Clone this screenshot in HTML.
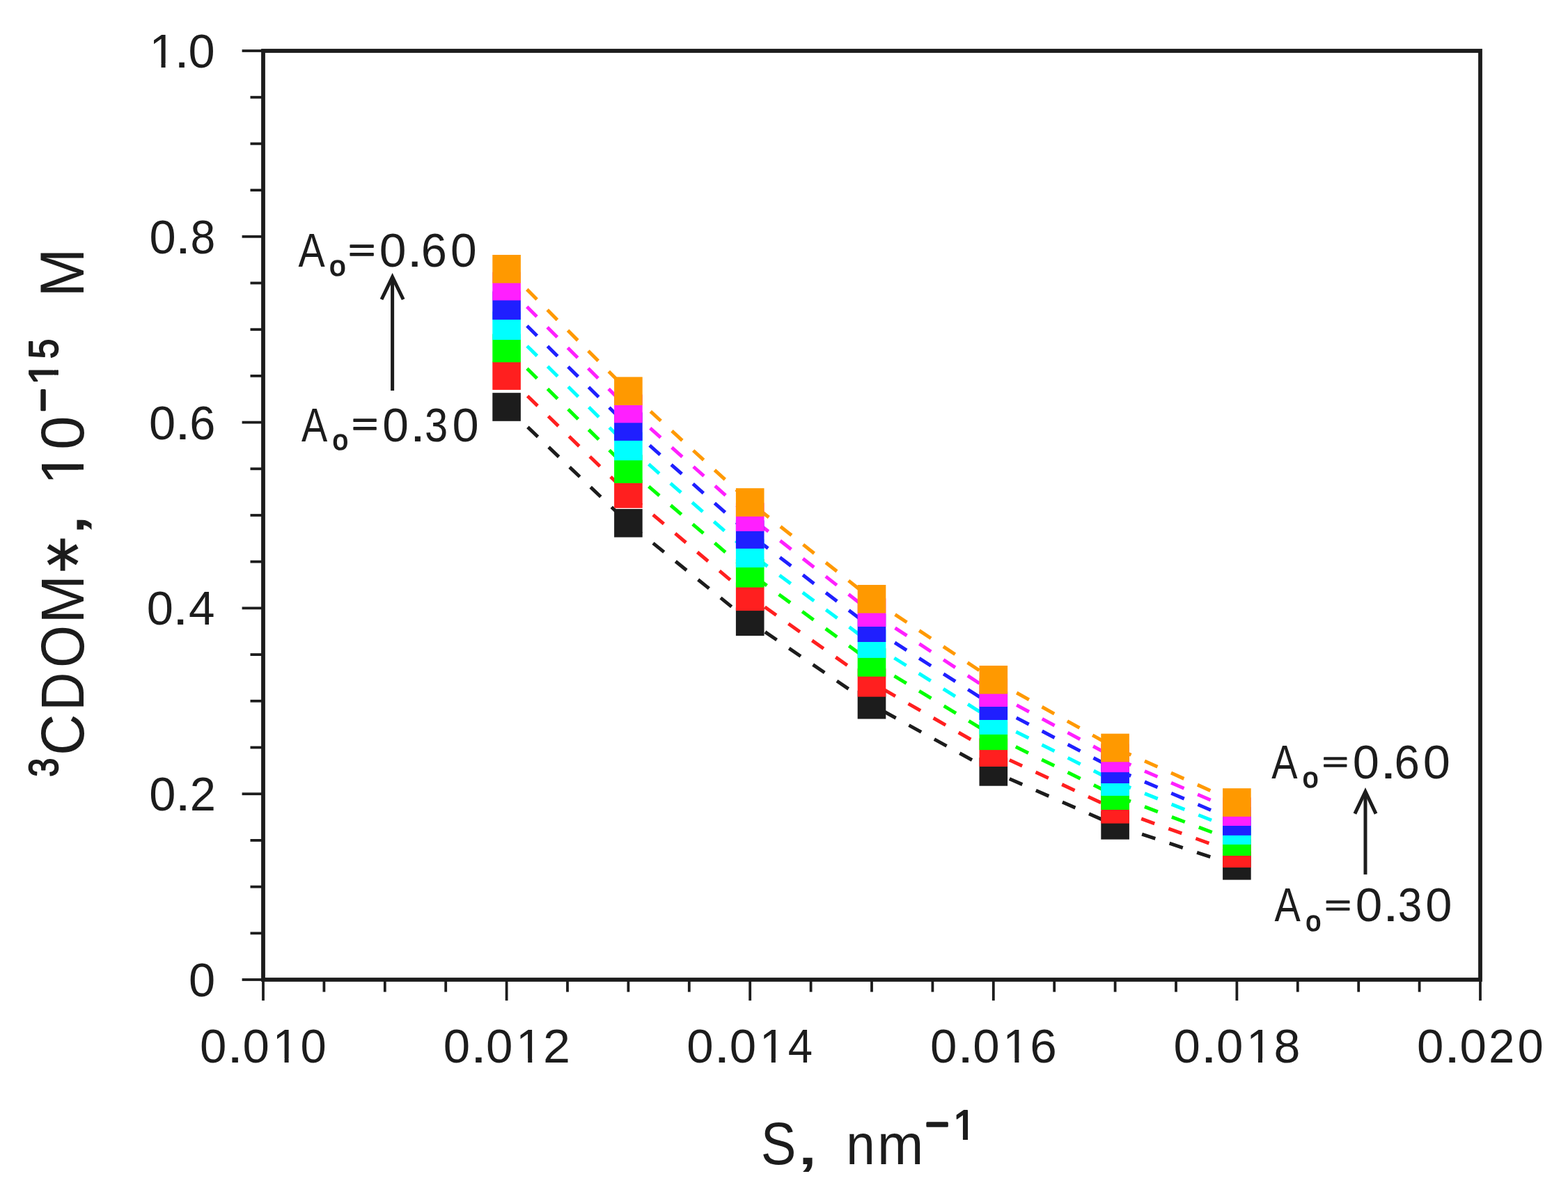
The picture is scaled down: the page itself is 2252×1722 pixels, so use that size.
<!DOCTYPE html><html><head><meta charset="utf-8"><title>3CDOM* vs S</title>
<style>html,body{margin:0;padding:0;background:#fff;overflow:hidden}svg{display:block}text{font-family:"Liberation Sans",Arial,sans-serif;fill:#1c1c1c}</style></head><body>
<svg width="2252" height="1722" viewBox="0 0 2252 1722">
<rect width="100%" height="100%" fill="#fff"/>
<g fill="none" stroke-width="5" stroke-linecap="butt" stroke-dasharray="20.2 21.4">
<line x1="727.6" y1="584.5" x2="902.4" y2="751.3" stroke="#1c1c1c" stroke-dashoffset="41.3"/>
<line x1="902.4" y1="751.3" x2="1077.2" y2="892.8" stroke="#1c1c1c" stroke-dashoffset="37.4"/>
<line x1="1077.2" y1="892.8" x2="1252.0" y2="1012.2" stroke="#1c1c1c" stroke-dashoffset="15.3"/>
<line x1="1252.0" y1="1012.2" x2="1426.8" y2="1108.4" stroke="#1c1c1c" stroke-dashoffset="22.2"/>
<line x1="1426.8" y1="1108.4" x2="1601.6" y2="1185.3" stroke="#1c1c1c" stroke-dashoffset="16.5"/>
<line x1="1601.6" y1="1185.3" x2="1776.4" y2="1243.3" stroke="#1c1c1c" stroke-dashoffset="1.0"/>
<line x1="727.6" y1="539.6" x2="902.4" y2="709.4" stroke="#ff1f1f" stroke-dashoffset="41.3"/>
<line x1="902.4" y1="709.4" x2="1077.2" y2="856.8" stroke="#ff1f1f" stroke-dashoffset="36.7"/>
<line x1="1077.2" y1="856.8" x2="1252.0" y2="980.4" stroke="#ff1f1f" stroke-dashoffset="15.6"/>
<line x1="1252.0" y1="980.4" x2="1426.8" y2="1080.7" stroke="#ff1f1f" stroke-dashoffset="22.6"/>
<line x1="1426.8" y1="1080.7" x2="1601.6" y2="1162.3" stroke="#ff1f1f" stroke-dashoffset="16.2"/>
<line x1="1601.6" y1="1162.3" x2="1776.4" y2="1225.6" stroke="#ff1f1f" stroke-dashoffset="1.6"/>
<line x1="727.6" y1="500.0" x2="902.4" y2="673.6" stroke="#00ff00" stroke-dashoffset="0.2"/>
<line x1="902.4" y1="673.6" x2="1077.2" y2="823.3" stroke="#00ff00" stroke-dashoffset="3.0"/>
<line x1="1077.2" y1="823.3" x2="1252.0" y2="951.4" stroke="#00ff00" stroke-dashoffset="31.8"/>
<line x1="1252.0" y1="951.4" x2="1426.8" y2="1056.8" stroke="#00ff00" stroke-dashoffset="3.7"/>
<line x1="1426.8" y1="1056.8" x2="1601.6" y2="1142.7" stroke="#00ff00" stroke-dashoffset="5.9"/>
<line x1="1601.6" y1="1142.7" x2="1776.4" y2="1208.7" stroke="#00ff00" stroke-dashoffset="37.9"/>
<line x1="727.6" y1="467.8" x2="902.4" y2="640.9" stroke="#00ffff" stroke-dashoffset="0.2"/>
<line x1="902.4" y1="640.9" x2="1077.2" y2="794.7" stroke="#00ffff" stroke-dashoffset="2.6"/>
<line x1="1077.2" y1="794.7" x2="1252.0" y2="924.6" stroke="#00ffff" stroke-dashoffset="30.5"/>
<line x1="1252.0" y1="924.6" x2="1426.8" y2="1034.6" stroke="#00ffff" stroke-dashoffset="3.3"/>
<line x1="1426.8" y1="1034.6" x2="1601.6" y2="1122.6" stroke="#00ffff" stroke-dashoffset="5.2"/>
<line x1="1601.6" y1="1122.6" x2="1776.4" y2="1192.6" stroke="#00ffff" stroke-dashoffset="37.5"/>
<line x1="727.6" y1="438.8" x2="902.4" y2="612.6" stroke="#1f1fff" stroke-dashoffset="0.2"/>
<line x1="902.4" y1="612.6" x2="1077.2" y2="767.6" stroke="#1f1fff" stroke-dashoffset="0.7"/>
<line x1="1077.2" y1="767.6" x2="1252.0" y2="901.7" stroke="#1f1fff" stroke-dashoffset="29.1"/>
<line x1="1252.0" y1="901.7" x2="1426.8" y2="1013.7" stroke="#1f1fff" stroke-dashoffset="2.3"/>
<line x1="1426.8" y1="1013.7" x2="1601.6" y2="1104.7" stroke="#1f1fff" stroke-dashoffset="4.4"/>
<line x1="1601.6" y1="1104.7" x2="1776.4" y2="1179.5" stroke="#1f1fff" stroke-dashoffset="37.1"/>
<line x1="727.6" y1="411.1" x2="902.4" y2="587.0" stroke="#ff1fff" stroke-dashoffset="0.2"/>
<line x1="902.4" y1="587.0" x2="1077.2" y2="742.6" stroke="#ff1fff" stroke-dashoffset="41.2"/>
<line x1="1077.2" y1="742.6" x2="1252.0" y2="879.7" stroke="#ff1fff" stroke-dashoffset="28.2"/>
<line x1="1252.0" y1="879.7" x2="1426.8" y2="994.7" stroke="#ff1fff" stroke-dashoffset="1.4"/>
<line x1="1426.8" y1="994.7" x2="1601.6" y2="1088.8" stroke="#ff1fff" stroke-dashoffset="3.7"/>
<line x1="1601.6" y1="1088.8" x2="1776.4" y2="1165.7" stroke="#ff1fff" stroke-dashoffset="36.9"/>
<line x1="727.6" y1="386.3" x2="902.4" y2="561.7" stroke="#ff9900" stroke-dashoffset="0.2"/>
<line x1="902.4" y1="561.7" x2="1077.2" y2="721.5" stroke="#ff9900" stroke-dashoffset="40.0"/>
<line x1="1077.2" y1="721.5" x2="1252.0" y2="860.3" stroke="#ff9900" stroke-dashoffset="27.3"/>
<line x1="1252.0" y1="860.3" x2="1426.8" y2="976.3" stroke="#ff9900" stroke-dashoffset="1.3"/>
<line x1="1426.8" y1="976.3" x2="1601.6" y2="1074.0" stroke="#ff9900" stroke-dashoffset="3.3"/>
<line x1="1601.6" y1="1074.0" x2="1776.4" y2="1152.5" stroke="#ff9900" stroke-dashoffset="36.7"/>
</g>
<rect x="707.3" y="564.2" width="40.6" height="40.6" fill="#1c1c1c"/>
<rect x="882.1" y="731.0" width="40.6" height="40.6" fill="#1c1c1c"/>
<rect x="1056.9" y="872.5" width="40.6" height="40.6" fill="#1c1c1c"/>
<rect x="1231.7" y="991.9" width="40.6" height="40.6" fill="#1c1c1c"/>
<rect x="1406.5" y="1088.1" width="40.6" height="40.6" fill="#1c1c1c"/>
<rect x="1581.3" y="1165.0" width="40.6" height="40.6" fill="#1c1c1c"/>
<rect x="1756.1" y="1223.0" width="40.6" height="40.6" fill="#1c1c1c"/>
<rect x="707.3" y="519.3" width="40.6" height="40.6" fill="#ff1f1f"/>
<rect x="882.1" y="689.1" width="40.6" height="40.6" fill="#ff1f1f"/>
<rect x="1056.9" y="836.5" width="40.6" height="40.6" fill="#ff1f1f"/>
<rect x="1231.7" y="960.1" width="40.6" height="40.6" fill="#ff1f1f"/>
<rect x="1406.5" y="1060.4" width="40.6" height="40.6" fill="#ff1f1f"/>
<rect x="1581.3" y="1142.0" width="40.6" height="40.6" fill="#ff1f1f"/>
<rect x="1756.1" y="1205.3" width="40.6" height="40.6" fill="#ff1f1f"/>
<rect x="707.3" y="479.7" width="40.6" height="40.6" fill="#00ff00"/>
<rect x="882.1" y="653.3" width="40.6" height="40.6" fill="#00ff00"/>
<rect x="1056.9" y="803.0" width="40.6" height="40.6" fill="#00ff00"/>
<rect x="1231.7" y="931.1" width="40.6" height="40.6" fill="#00ff00"/>
<rect x="1406.5" y="1036.5" width="40.6" height="40.6" fill="#00ff00"/>
<rect x="1581.3" y="1122.4" width="40.6" height="40.6" fill="#00ff00"/>
<rect x="1756.1" y="1188.4" width="40.6" height="40.6" fill="#00ff00"/>
<rect x="707.3" y="447.5" width="40.6" height="40.6" fill="#00ffff"/>
<rect x="882.1" y="620.6" width="40.6" height="40.6" fill="#00ffff"/>
<rect x="1056.9" y="774.4" width="40.6" height="40.6" fill="#00ffff"/>
<rect x="1231.7" y="904.3" width="40.6" height="40.6" fill="#00ffff"/>
<rect x="1406.5" y="1014.3" width="40.6" height="40.6" fill="#00ffff"/>
<rect x="1581.3" y="1102.3" width="40.6" height="40.6" fill="#00ffff"/>
<rect x="1756.1" y="1172.3" width="40.6" height="40.6" fill="#00ffff"/>
<rect x="707.3" y="418.5" width="40.6" height="40.6" fill="#1f1fff"/>
<rect x="882.1" y="592.3" width="40.6" height="40.6" fill="#1f1fff"/>
<rect x="1056.9" y="747.3" width="40.6" height="40.6" fill="#1f1fff"/>
<rect x="1231.7" y="881.4" width="40.6" height="40.6" fill="#1f1fff"/>
<rect x="1406.5" y="993.4" width="40.6" height="40.6" fill="#1f1fff"/>
<rect x="1581.3" y="1084.4" width="40.6" height="40.6" fill="#1f1fff"/>
<rect x="1756.1" y="1159.2" width="40.6" height="40.6" fill="#1f1fff"/>
<rect x="707.3" y="390.8" width="40.6" height="40.6" fill="#ff1fff"/>
<rect x="882.1" y="566.7" width="40.6" height="40.6" fill="#ff1fff"/>
<rect x="1056.9" y="722.3" width="40.6" height="40.6" fill="#ff1fff"/>
<rect x="1231.7" y="859.4" width="40.6" height="40.6" fill="#ff1fff"/>
<rect x="1406.5" y="974.4" width="40.6" height="40.6" fill="#ff1fff"/>
<rect x="1581.3" y="1068.5" width="40.6" height="40.6" fill="#ff1fff"/>
<rect x="1756.1" y="1145.4" width="40.6" height="40.6" fill="#ff1fff"/>
<rect x="707.3" y="366.0" width="40.6" height="40.6" fill="#ff9900"/>
<rect x="882.1" y="541.4" width="40.6" height="40.6" fill="#ff9900"/>
<rect x="1056.9" y="701.2" width="40.6" height="40.6" fill="#ff9900"/>
<rect x="1231.7" y="840.0" width="40.6" height="40.6" fill="#ff9900"/>
<rect x="1406.5" y="956.0" width="40.6" height="40.6" fill="#ff9900"/>
<rect x="1581.3" y="1053.7" width="40.6" height="40.6" fill="#ff9900"/>
<rect x="1756.1" y="1132.2" width="40.6" height="40.6" fill="#ff9900"/>
<g stroke="#1c1c1c" fill="none">
<line x1="347.6" y1="1407.00" x2="378" y2="1407.00" stroke-width="3.8"/>
<line x1="359.5" y1="1340.30" x2="378" y2="1340.30" stroke-width="3.8"/>
<line x1="359.5" y1="1273.60" x2="378" y2="1273.60" stroke-width="3.8"/>
<line x1="359.5" y1="1206.90" x2="378" y2="1206.90" stroke-width="3.8"/>
<line x1="347.6" y1="1140.20" x2="378" y2="1140.20" stroke-width="3.8"/>
<line x1="359.5" y1="1073.50" x2="378" y2="1073.50" stroke-width="3.8"/>
<line x1="359.5" y1="1006.80" x2="378" y2="1006.80" stroke-width="3.8"/>
<line x1="359.5" y1="940.10" x2="378" y2="940.10" stroke-width="3.8"/>
<line x1="347.6" y1="873.40" x2="378" y2="873.40" stroke-width="3.8"/>
<line x1="359.5" y1="806.70" x2="378" y2="806.70" stroke-width="3.8"/>
<line x1="359.5" y1="740.00" x2="378" y2="740.00" stroke-width="3.8"/>
<line x1="359.5" y1="673.30" x2="378" y2="673.30" stroke-width="3.8"/>
<line x1="347.6" y1="606.60" x2="378" y2="606.60" stroke-width="3.8"/>
<line x1="359.5" y1="539.90" x2="378" y2="539.90" stroke-width="3.8"/>
<line x1="359.5" y1="473.20" x2="378" y2="473.20" stroke-width="3.8"/>
<line x1="359.5" y1="406.50" x2="378" y2="406.50" stroke-width="3.8"/>
<line x1="347.6" y1="339.80" x2="378" y2="339.80" stroke-width="3.8"/>
<line x1="359.5" y1="273.10" x2="378" y2="273.10" stroke-width="3.8"/>
<line x1="359.5" y1="206.40" x2="378" y2="206.40" stroke-width="3.8"/>
<line x1="359.5" y1="139.70" x2="378" y2="139.70" stroke-width="3.8"/>
<line x1="347.6" y1="73.00" x2="378" y2="73.00" stroke-width="3.8"/>
<line x1="378.00" y1="1407" x2="378.00" y2="1437.0" stroke-width="3.8"/>
<line x1="465.40" y1="1407" x2="465.40" y2="1424.6" stroke-width="3.8"/>
<line x1="552.80" y1="1407" x2="552.80" y2="1424.6" stroke-width="3.8"/>
<line x1="640.20" y1="1407" x2="640.20" y2="1424.6" stroke-width="3.8"/>
<line x1="727.60" y1="1407" x2="727.60" y2="1437.0" stroke-width="3.8"/>
<line x1="815.00" y1="1407" x2="815.00" y2="1424.6" stroke-width="3.8"/>
<line x1="902.40" y1="1407" x2="902.40" y2="1424.6" stroke-width="3.8"/>
<line x1="989.80" y1="1407" x2="989.80" y2="1424.6" stroke-width="3.8"/>
<line x1="1077.20" y1="1407" x2="1077.20" y2="1437.0" stroke-width="3.8"/>
<line x1="1164.60" y1="1407" x2="1164.60" y2="1424.6" stroke-width="3.8"/>
<line x1="1252.00" y1="1407" x2="1252.00" y2="1424.6" stroke-width="3.8"/>
<line x1="1339.40" y1="1407" x2="1339.40" y2="1424.6" stroke-width="3.8"/>
<line x1="1426.80" y1="1407" x2="1426.80" y2="1437.0" stroke-width="3.8"/>
<line x1="1514.20" y1="1407" x2="1514.20" y2="1424.6" stroke-width="3.8"/>
<line x1="1601.60" y1="1407" x2="1601.60" y2="1424.6" stroke-width="3.8"/>
<line x1="1689.00" y1="1407" x2="1689.00" y2="1424.6" stroke-width="3.8"/>
<line x1="1776.40" y1="1407" x2="1776.40" y2="1437.0" stroke-width="3.8"/>
<line x1="1863.80" y1="1407" x2="1863.80" y2="1424.6" stroke-width="3.8"/>
<line x1="1951.20" y1="1407" x2="1951.20" y2="1424.6" stroke-width="3.8"/>
<line x1="2038.60" y1="1407" x2="2038.60" y2="1424.6" stroke-width="3.8"/>
<line x1="2126.00" y1="1407" x2="2126.00" y2="1437.0" stroke-width="3.8"/>
<rect x="378" y="73" width="1748" height="1334" stroke-width="5.8"/>
</g>
<text transform="translate(214.45,97.00)" font-size="68.00" clip-path="url(#c1_680_0)">1</text>
<text transform="translate(249.91,97.00) scale(1.1738,1.0000)" font-size="68.00">.</text>
<text transform="translate(270.52,97.00) scale(1.0090,1.0000)" font-size="68.00">0</text>
<text transform="translate(273.50,363.80) scale(0.9465,1.0000)" font-size="68.00">8</text>
<text transform="translate(251.33,363.80) scale(1.2356,1.0000)" font-size="68.00">.</text>
<text transform="translate(214.62,363.80) scale(1.0090,1.0000)" font-size="68.00">0</text>
<text transform="translate(272.31,630.60) scale(0.9816,1.0000)" font-size="68.00">6</text>
<text transform="translate(250.73,630.60) scale(1.2356,1.0000)" font-size="68.00">.</text>
<text transform="translate(214.02,630.60) scale(1.0090,1.0000)" font-size="68.00">0</text>
<text transform="translate(270.95,897.40) scale(0.9922,1.0000)" font-size="68.00">4</text>
<text transform="translate(247.53,897.40) scale(1.2356,1.0000)" font-size="68.00">.</text>
<text transform="translate(210.82,897.40) scale(1.0090,1.0000)" font-size="68.00">0</text>
<text transform="translate(272.63,1164.20) scale(0.9846,1.0000)" font-size="68.00">2</text>
<text transform="translate(251.03,1164.20) scale(1.2356,1.0000)" font-size="68.00">.</text>
<text transform="translate(214.32,1164.20) scale(1.0090,1.0000)" font-size="68.00">0</text>
<text transform="translate(271.02,1431.00) scale(1.0090,1.0000)" font-size="68.00">0</text>
<text transform="translate(287.10,1526.00) scale(1.0152,1.0000)" font-size="68.00">0</text>
<text transform="translate(325.35,1526.00) scale(1.3128,1.0000)" font-size="68.00">.</text>
<text transform="translate(348.50,1526.00) scale(1.0152,1.0000)" font-size="68.00">0</text>
<text transform="translate(391.50,1526.00)" font-size="68.00" clip-path="url(#c1_680_0)">1</text>
<text transform="translate(431.39,1526.00) scale(0.9844,1.0000)" font-size="68.00">0</text>
<text transform="translate(636.70,1526.00) scale(1.0152,1.0000)" font-size="68.00">0</text>
<text transform="translate(674.95,1526.00) scale(1.3128,1.0000)" font-size="68.00">.</text>
<text transform="translate(698.10,1526.00) scale(1.0152,1.0000)" font-size="68.00">0</text>
<text transform="translate(741.10,1526.00)" font-size="68.00" clip-path="url(#c1_680_0)">1</text>
<text transform="translate(780.07,1526.00) scale(1.0330,1.0000)" font-size="68.00">2</text>
<text transform="translate(986.30,1526.00) scale(1.0152,1.0000)" font-size="68.00">0</text>
<text transform="translate(1024.55,1526.00) scale(1.3128,1.0000)" font-size="68.00">.</text>
<text transform="translate(1047.70,1526.00) scale(1.0152,1.0000)" font-size="68.00">0</text>
<text transform="translate(1090.70,1526.00)" font-size="68.00" clip-path="url(#c1_680_0)">1</text>
<text transform="translate(1131.74,1526.00) scale(0.9339,1.0000)" font-size="68.00">4</text>
<text transform="translate(1335.90,1526.00) scale(1.0152,1.0000)" font-size="68.00">0</text>
<text transform="translate(1374.15,1526.00) scale(1.3128,1.0000)" font-size="68.00">.</text>
<text transform="translate(1397.30,1526.00) scale(1.0152,1.0000)" font-size="68.00">0</text>
<text transform="translate(1440.30,1526.00)" font-size="68.00" clip-path="url(#c1_680_0)">1</text>
<text transform="translate(1479.28,1526.00) scale(1.0199,1.0000)" font-size="68.00">6</text>
<text transform="translate(1685.50,1526.00) scale(1.0152,1.0000)" font-size="68.00">0</text>
<text transform="translate(1723.75,1526.00) scale(1.3128,1.0000)" font-size="68.00">.</text>
<text transform="translate(1746.90,1526.00) scale(1.0152,1.0000)" font-size="68.00">0</text>
<text transform="translate(1789.90,1526.00)" font-size="68.00" clip-path="url(#c1_680_0)">1</text>
<text transform="translate(1829.44,1526.00) scale(1.0029,1.0000)" font-size="68.00">8</text>
<text transform="translate(2035.10,1526.00) scale(1.0152,1.0000)" font-size="68.00">0</text>
<text transform="translate(2073.35,1526.00) scale(1.3128,1.0000)" font-size="68.00">.</text>
<text transform="translate(2096.50,1526.00) scale(1.0152,1.0000)" font-size="68.00">0</text>
<text transform="translate(2137.92,1526.00) scale(0.9878,1.0000)" font-size="68.00">2</text>
<text transform="translate(2179.39,1526.00) scale(0.9844,1.0000)" font-size="68.00">0</text>
<text transform="translate(428.39,383.10) scale(0.8428,1.0000)" font-size="68.00">A</text>
<text transform="translate(473.15,396.20) scale(1.0431,1.0176)" font-size="40.00" stroke="#1c1c1c" stroke-width="1.40" stroke-linejoin="round">o</text>
<text transform="translate(500.35,374.87) scale(0.9777,0.6891)" font-size="68.00" stroke="#1c1c1c" stroke-width="2.20" stroke-linejoin="round">=</text>
<text transform="translate(544.78,383.10) scale(1.0244,1.0000)" font-size="68.00">0</text>
<text transform="translate(583.93,383.10) scale(1.2356,1.0000)" font-size="68.00">.</text>
<text transform="translate(604.71,383.10) scale(0.9816,1.0000)" font-size="68.00">6</text>
<text transform="translate(646.95,383.10) scale(0.9967,1.0000)" font-size="68.00">0</text>
<text transform="translate(433.09,633.60) scale(0.8206,1.0000)" font-size="68.00">A</text>
<text transform="translate(477.73,645.60) scale(0.9954,1.0176)" font-size="40.00" stroke="#1c1c1c" stroke-width="1.40" stroke-linejoin="round">o</text>
<text transform="translate(505.34,625.37) scale(0.9504,0.6891)" font-size="68.00" stroke="#1c1c1c" stroke-width="2.20" stroke-linejoin="round">=</text>
<text transform="translate(549.25,633.60) scale(0.9967,1.0000)" font-size="68.00">0</text>
<text transform="translate(588.33,633.60) scale(1.2356,1.0000)" font-size="68.00">.</text>
<text transform="translate(609.93,633.60) scale(0.8778,1.0000)" font-size="68.00">3</text>
<text transform="translate(649.52,633.60) scale(1.0090,1.0000)" font-size="68.00">0</text>
<text transform="translate(1826.29,1117.80) scale(0.8228,1.0000)" font-size="68.00">A</text>
<text transform="translate(1871.11,1130.50) scale(1.0060,1.0176)" font-size="40.00" stroke="#1c1c1c" stroke-width="1.40" stroke-linejoin="round">o</text>
<text transform="translate(1899.05,1108.13) scale(0.9474,0.6069)" font-size="68.00" stroke="#1c1c1c" stroke-width="2.20" stroke-linejoin="round">=</text>
<text transform="translate(1942.82,1117.80) scale(1.0090,1.0000)" font-size="68.00">0</text>
<text transform="translate(1981.16,1117.80) scale(1.3437,1.0000)" font-size="68.00">.</text>
<text transform="translate(2002.58,1117.80) scale(0.9625,1.0000)" font-size="68.00">6</text>
<text transform="translate(2043.75,1117.80) scale(1.0367,1.0000)" font-size="68.00">0</text>
<text transform="translate(1830.59,1323.20) scale(0.8228,1.0000)" font-size="68.00">A</text>
<text transform="translate(1875.56,1336.80) scale(0.9742,1.0176)" font-size="40.00" stroke="#1c1c1c" stroke-width="1.40" stroke-linejoin="round">o</text>
<text transform="translate(1902.50,1313.53) scale(0.9626,0.6069)" font-size="68.00" stroke="#1c1c1c" stroke-width="2.20" stroke-linejoin="round">=</text>
<text transform="translate(1946.80,1323.20) scale(1.0183,1.0000)" font-size="68.00">0</text>
<text transform="translate(1985.34,1323.20) scale(1.2819,1.0000)" font-size="68.00">.</text>
<text transform="translate(2007.84,1323.20) scale(0.9119,1.0000)" font-size="68.00">3</text>
<text transform="translate(2047.22,1323.20) scale(1.0090,1.0000)" font-size="68.00">0</text>
<g stroke="#1c1c1c" stroke-width="5" fill="none" stroke-linecap="butt" stroke-linejoin="miter">
<line x1="563.6" y1="561.1" x2="563.6" y2="399.8"/>
<polyline points="548.0,430.0 563.6,397.8 579.2,430.0"/>
</g>
<g stroke="#1c1c1c" stroke-width="5" fill="none" stroke-linecap="butt" stroke-linejoin="miter">
<line x1="1961.0" y1="1255.9" x2="1961.0" y2="1138.8"/>
<polyline points="1945.9,1168.6 1961.0,1136.8 1976.1,1168.6"/>
</g>
<text transform="translate(1092.75,1672.00) scale(0.8931,1.0000)" font-size="85.00">S</text>
<text transform="translate(1140.64,1672.00) scale(1.6183,1.0000)" font-size="85.00">,</text>
<text transform="translate(1215.14,1672.00) scale(0.8779,0.9576)" font-size="85.00">n</text>
<text transform="translate(1259.91,1672.00) scale(0.9369,0.9576)" font-size="85.00">m</text>
<text transform="translate(1328.92,1635.00) scale(0.9743,1.0000)" font-size="60.00" stroke="#1c1c1c" stroke-width="3.20" stroke-linejoin="round">−</text>
<text transform="translate(1368.76,1635.70)" font-size="60.00" stroke="#1c1c1c" stroke-width="1.80" stroke-linejoin="round" clip-path="url(#c1_600_18)">1</text>
<text transform="rotate(-90) translate(-1115.66,82.50) scale(0.8120,1.0000)" font-size="60.00" stroke="#1c1c1c" stroke-width="1.80" stroke-linejoin="round">3</text>
<text transform="rotate(-90) translate(-1084.97,120.00) scale(0.9331,1.0000)" font-size="88.00">C</text>
<text transform="rotate(-90) translate(-1020.86,120.00) scale(0.8672,1.0000)" font-size="88.00">D</text>
<text transform="rotate(-90) translate(-958.91,120.00) scale(0.8906,1.0000)" font-size="88.00">O</text>
<text transform="rotate(-90) translate(-895.47,120.00) scale(0.9513,1.0000)" font-size="88.00">M</text>
<text x="65.70" y="846.96" font-size="97.36" stroke="#1c1c1c" stroke-width="1.4" style='font-family:"DejaVu Sans",sans-serif'>*</text>
<text transform="rotate(-90) translate(-774.00,120.00) scale(1.6441,1.0000)" font-size="88.00">,</text>
<text transform="rotate(-90) translate(-696.72,120.00)" font-size="88.00" clip-path="url(#c1_880_0)">1</text>
<text transform="rotate(-90) translate(-646.02,120.00) scale(0.9960,1.0000)" font-size="88.00">0</text>
<text transform="rotate(-90) translate(-591.46,82.00) scale(0.9674,1.0000)" font-size="60.00" stroke="#1c1c1c" stroke-width="3.20" stroke-linejoin="round">−</text>
<text transform="rotate(-90) translate(-552.79,82.50)" font-size="60.00" stroke="#1c1c1c" stroke-width="1.80" stroke-linejoin="round" clip-path="url(#c1_600_18)">1</text>
<text transform="rotate(-90) translate(-515.36,82.50) scale(0.8577,1.0000)" font-size="60.00" stroke="#1c1c1c" stroke-width="1.80" stroke-linejoin="round">5</text>
<text transform="rotate(-90) translate(-426.80,120.00) scale(0.9564,1.0000)" font-size="88.00">M</text>
<defs><clipPath id="c1_680_0" clipPathUnits="userSpaceOnUse"><rect x="-100" y="-1000" width="1000" height="994.12"/><rect x="17.10" y="-1000" width="6.01" height="1100"/></clipPath><clipPath id="c1_600_18" clipPathUnits="userSpaceOnUse"><rect x="-100" y="-1000" width="1000" height="993.82"/><rect x="14.19" y="-1000" width="7.10" height="1100"/></clipPath><clipPath id="c1_880_0" clipPathUnits="userSpaceOnUse"><rect x="-100" y="-1000" width="1000" height="992.63"/><rect x="22.13" y="-1000" width="7.78" height="1100"/></clipPath></defs>
</svg></body></html>
